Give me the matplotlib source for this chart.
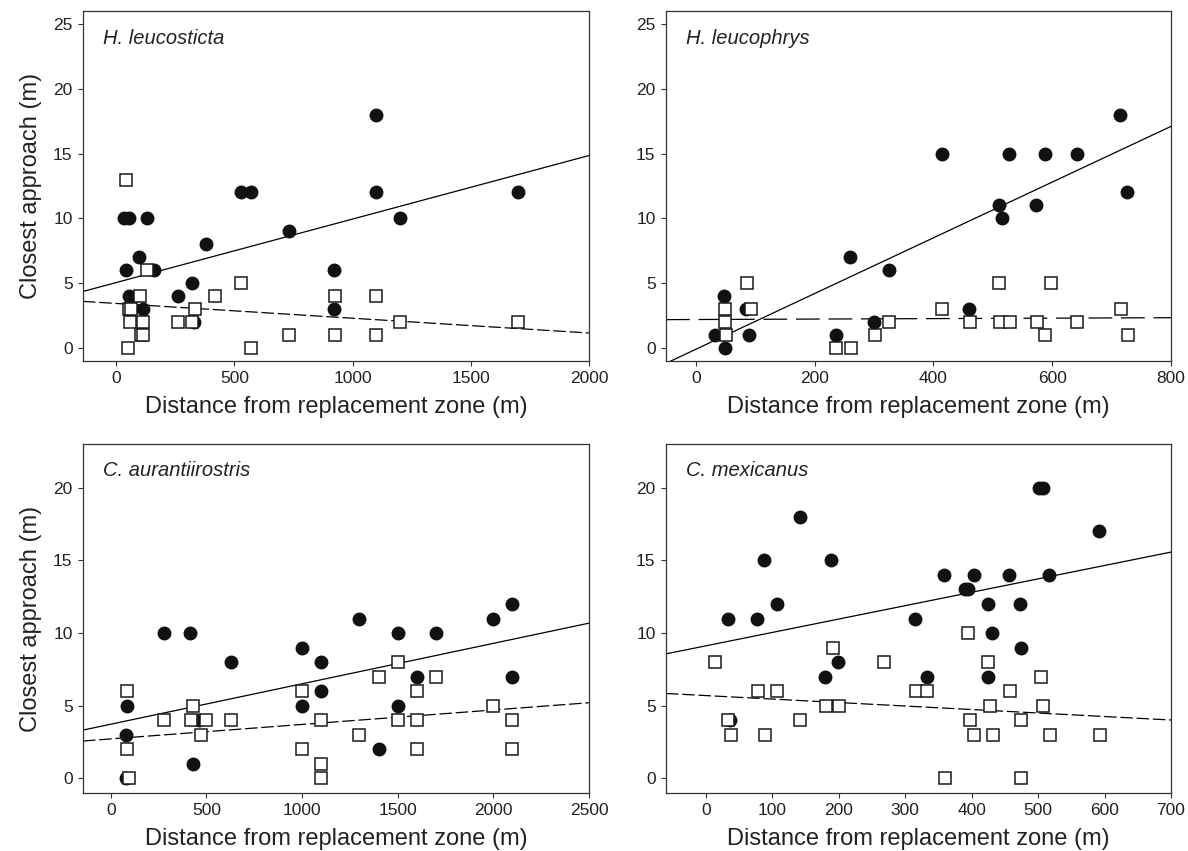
import numpy as np
import matplotlib
matplotlib.use('Agg')
import matplotlib.pyplot as plt

plt.rcParams['font.family'] = ['Liberation Sans', 'DejaVu Sans']

# H. leucosticta
hleuc_fill_x = [35, 55, 40, 95, 130, 160, 55, 115, 260, 320, 330, 380, 530, 570, 730, 920, 920, 1100, 1100, 1200, 1700]
hleuc_fill_y = [10, 10, 6, 7, 10, 6, 4, 3, 4, 5, 2, 8, 12, 12, 9, 6, 3, 18, 12, 10, 12]
hleuc_open_x = [40, 50, 60, 55, 65, 100, 115, 105, 115, 130, 260, 320, 335, 420, 530, 570, 730, 925, 925, 1100, 1100, 1200, 1700]
hleuc_open_y = [13, 0, 2, 3, 3, 4, 2, 1, 1, 6, 2, 2, 3, 4, 5, 0, 1, 4, 1, 4, 1, 2, 2]
hleuc_fit_solid = (5.05, 0.0049)
hleuc_fit_dashed = (3.44, -0.00114)

# H. leucophrys
hleup_fill_x = [32, 48, 50, 85, 90, 236, 260, 300, 325, 414, 460, 510, 515, 528, 573, 588, 642, 714, 726]
hleup_fill_y = [1, 4, 0, 3, 1, 1, 7, 2, 6, 15, 3, 11, 10, 15, 11, 15, 15, 18, 12]
hleup_open_x = [50, 50, 51, 87, 93, 236, 261, 302, 326, 415, 462, 511, 513, 529, 574, 588, 598, 642, 716, 727]
hleup_open_y = [3, 2, 1, 5, 3, 0, 0, 1, 2, 3, 2, 5, 2, 2, 2, 1, 5, 2, 3, 1]
hleup_fit_solid = (-0.1, 0.0215)
hleup_fit_dashed = (2.2, 0.000176)

# C. aurantiirostris
caur_fill_x = [85, 80, 80, 280, 415, 430, 460, 630, 1000, 1000, 1100, 1100, 1300, 1400, 1500, 1500, 1600, 1700, 2000, 2100, 2100]
caur_fill_y = [5, 3, 0, 10, 10, 1, 4, 8, 9, 5, 8, 6, 11, 2, 10, 5, 7, 10, 11, 12, 7]
caur_open_x = [85, 85, 95, 280, 420, 430, 500, 470, 630, 1000, 1000, 1100, 1100, 1100, 1300, 1400, 1500, 1500, 1600, 1600, 1600, 1700, 2000, 2100, 2100]
caur_open_y = [6, 2, 0, 4, 4, 5, 4, 3, 4, 6, 2, 4, 1, 0, 3, 7, 8, 4, 6, 4, 2, 7, 5, 4, 2]
caur_fit_solid = (3.73, 0.00278)
caur_fit_dashed = (2.72, 0.000995)

# C. mexicanus
cmex_fill_x = [33, 77, 87, 107, 142, 189, 179, 199, 36, 314, 333, 358, 390, 395, 404, 424, 431, 424, 456, 473, 474, 501, 507, 517, 592]
cmex_fill_y = [11, 11, 15, 12, 18, 15, 7, 8, 4, 11, 7, 14, 13, 13, 14, 12, 10, 7, 14, 12, 9, 20, 20, 14, 17]
cmex_open_x = [14, 33, 38, 79, 107, 89, 142, 181, 191, 200, 268, 316, 333, 360, 394, 397, 404, 425, 427, 432, 457, 474, 475, 504, 507, 518, 593]
cmex_open_y = [8, 4, 3, 6, 6, 3, 4, 5, 9, 5, 8, 6, 6, 0, 10, 4, 3, 8, 5, 3, 6, 4, 0, 7, 5, 3, 3]
cmex_fit_solid = (9.12, 0.00921)
cmex_fit_dashed = (5.70, -0.0024)

panels = [
    ("H. leucosticta", hleuc_fill_x, hleuc_fill_y, hleuc_open_x, hleuc_open_y,
     hleuc_fit_solid, hleuc_fit_dashed, (-140, 2000), (-1, 26), np.arange(0, 2001, 500), np.arange(0, 26, 5), (10, 3)),
    ("H. leucophrys", hleup_fill_x, hleup_fill_y, hleup_open_x, hleup_open_y,
     hleup_fit_solid, hleup_fit_dashed, (-50, 800), (-1, 26), np.arange(0, 801, 200), np.arange(0, 26, 5), (19, 7)),
    ("C. aurantiirostris", caur_fill_x, caur_fill_y, caur_open_x, caur_open_y,
     caur_fit_solid, caur_fit_dashed, (-145, 2500), (-1, 23), np.arange(0, 2501, 500), np.arange(0, 21, 5), (10, 3)),
    ("C. mexicanus", cmex_fill_x, cmex_fill_y, cmex_open_x, cmex_open_y,
     cmex_fit_solid, cmex_fit_dashed, (-60, 700), (-1, 23), np.arange(0, 701, 100), np.arange(0, 21, 5), (10, 3)),
]

W, H = 1188, 851
# axes boxes in pixels: left, top, right, bottom
boxes = [(83, 11, 589, 361), (666, 11, 1171, 361), (83, 444, 589, 793), (666, 444, 1171, 793)]

fig = plt.figure(figsize=(W / 100, H / 100), dpi=100)
spine_col = '#333333'

for i, (name, fx, fy, ox, oy, fs, fd, xl, yl, xt, yt, dash) in enumerate(panels):
    l, t, r, b = boxes[i]
    ax = fig.add_axes([l / W, 1 - b / H, (r - l) / W, (b - t) / H])
    ax.axline((0, fs[0]), slope=fs[1], color='black', lw=0.9, zorder=1)
    ax.axline((0, fd[0]), slope=fd[1], color='black', lw=0.9, dashes=dash, zorder=1)
    ax.plot(fx, fy, 'o', color='#111111', markersize=9, zorder=2)
    ax.plot(ox, oy, 's', markerfacecolor='white', markeredgecolor='#1a1a1a',
            markeredgewidth=1.1, markersize=9, zorder=3)
    ax.set_xlim(xl)
    ax.set_ylim(yl)
    ax.set_xticks(xt)
    ax.set_yticks(yt)
    ax.tick_params(axis='both', direction='out', length=3.5, width=0.8, colors=spine_col,
                   labelcolor='#222222', labelsize=12.5, pad=4)
    for sp in ax.spines.values():
        sp.set_color(spine_col)
        sp.set_linewidth(0.9)
    ax.text(0.04, 0.907, name, transform=ax.transAxes, style='italic',
            fontsize=14.5, color='#222222', va='baseline', ha='left')
    ax.set_xlabel('Distance from replacement zone (m)', fontsize=17, color='#222222', labelpad=7)
    if i % 2 == 0:
        ax.set_ylabel('Closest approach (m)', fontsize=17, color='#222222', labelpad=8)

fig.savefig('out.png', dpi=100)
